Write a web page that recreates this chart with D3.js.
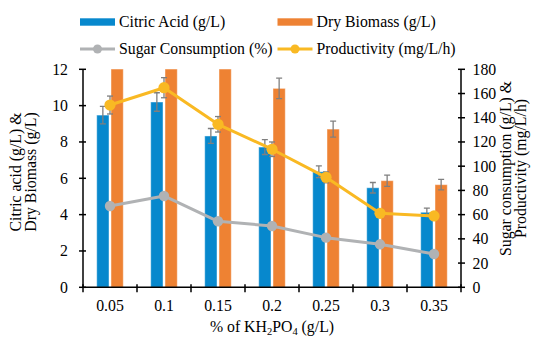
<!DOCTYPE html>
<html lang="en">
<head>
  <meta charset="UTF-8" />
  <title>Citric acid vs KH2PO4</title>
  <style>
    body { margin: 0; padding: 0; background: #fff; }
    svg { display: block; }
  </style>
</head>
<body>
  <svg id="chart"></svg>

  <script src="https://d3js.org/d3.v7.min.js"></script>
  <script>
    const width = 539, height = 341;

    // data
    const categories = ["0.05", "0.1", "0.15", "0.2", "0.25", "0.3", "0.35"];
    const citricAcid = [9.48, 10.2, 8.33, 7.72, 6.36, 5.48, 4.13];
    const citricErr = [0.48, 0.51, 0.41, 0.41, 0.32, 0.29, 0.23];
    // first three go past the top of the axis and get clipped
    const dryBiomass = [13.6, 14.2, 12.9, 10.95, 8.71, 5.87, 5.65];
    const biomassErr = [0.6, 0.6, 0.5, 0.56, 0.44, 0.31, 0.29];
    const sugarConsumption = [67.1, 75.4, 54.5, 50.6, 41.0, 35.5, 27.5];
    const productivity = [150.5, 164.8, 134.6, 114.0, 90.8, 61.1, 58.9];
    const productivityErr = [7.4, 8.3, 6.4, 6.0, 4.5, 2.0, 2.0];
    const leftTicks = [0, 2, 4, 6, 8, 10, 12];
    const rightTicks = [0, 20, 40, 60, 80, 100, 120, 140, 160, 180];

    const colors = {
      citric: "#0788cd",
      biomass: "#ee8233",
      sugar: "#b0b2b4",
      prod: "#f9b923",
      err: "#7f7f7f"
    };

    const font = "'Liberation Serif', 'Times New Roman', Times, serif";
    const plot = { left: 83, right: 461, top: 69.3, bottom: 287.3 };

    const svg = d3.select("#chart")
      .attr("width", width)
      .attr("height", height)
      .attr("viewBox", `0 0 ${width} ${height}`)
      .style("font-family", font);

    const x = d3.scaleBand().domain(categories).range([plot.left, plot.right]).padding(0);
    const xs = d3.scaleBand().domain(["citric", "biomass"]).range([0, x.bandwidth()])
      .paddingInner(0.14).paddingOuter(0.96);
    const y = d3.scaleLinear().domain([0, 12]).range([plot.bottom, plot.top]);
    const y2 = d3.scaleLinear().domain([0, 180]).range([plot.bottom, plot.top]);

    svg.append("clipPath").attr("id", "plotClip")
      .append("rect")
      .attr("x", plot.left).attr("y", plot.top)
      .attr("width", plot.right - plot.left).attr("height", plot.bottom - plot.top);

    const barData = [];
    categories.forEach((c, i) => {
      barData.push({ cat: c, key: "citric", v: citricAcid[i], e: citricErr[i] });
      barData.push({ cat: c, key: "biomass", v: dryBiomass[i], e: biomassErr[i] });
    });

    const plotG = svg.append("g").attr("clip-path", "url(#plotClip)");

    plotG.selectAll("rect.bar")
      .data(barData)
      .join("rect")
      .attr("class", "bar")
      .attr("x", d => x(d.cat) + xs(d.key))
      .attr("y", d => y(d.v))
      .attr("width", xs.bandwidth())
      .attr("height", d => plot.bottom - y(d.v))
      .attr("fill", d => colors[d.key])
      .attr("stroke", "rgba(255,255,255,0.45)")
      .attr("stroke-width", 1);

    function errorBars(g, data, cx, yScale) {
      const cap = 3;
      const eg = g.selectAll(null).data(data).join("g")
        .attr("stroke", colors.err).attr("stroke-width", 1.3);
      eg.append("line")
        .attr("x1", cx).attr("x2", cx)
        .attr("y1", d => yScale(d.v + d.e)).attr("y2", d => yScale(d.v - d.e));
      eg.append("line")
        .attr("x1", d => cx(d) - cap).attr("x2", d => cx(d) + cap)
        .attr("y1", d => yScale(d.v + d.e)).attr("y2", d => yScale(d.v + d.e));
      eg.append("line")
        .attr("x1", d => cx(d) - cap).attr("x2", d => cx(d) + cap)
        .attr("y1", d => yScale(d.v - d.e)).attr("y2", d => yScale(d.v - d.e));
    }

    errorBars(plotG.append("g"), barData, d => x(d.cat) + xs(d.key) + xs.bandwidth() / 2, y);

    const cx = c => x(c) + x.bandwidth() / 2;

    function series(values, color, r, errs) {
      const pts = categories.map((c, i) => ({ cat: c, v: values[i], e: errs ? errs[i] : 0 }));
      const line = d3.line().x(d => cx(d.cat)).y(d => y2(d.v));
      svg.append("path")
        .datum(pts)
        .attr("d", line)
        .attr("fill", "none")
        .attr("stroke", color)
        .attr("stroke-width", 3)
        .attr("stroke-linejoin", "round");
      if (errs) errorBars(svg.append("g"), pts, d => cx(d.cat), y2);
      svg.append("g").selectAll("circle")
        .data(pts)
        .join("circle")
        .attr("cx", d => cx(d.cat))
        .attr("cy", d => y2(d.v))
        .attr("r", r)
        .attr("fill", color);
    }

    series(sugarConsumption, colors.sugar, 5.2);
    series(productivity, colors.prod, 5.6, productivityErr);

    // axes
    const axisG = svg.append("g").attr("stroke", "#000").attr("stroke-width", 1.5);
    axisG.append("line")
      .attr("x1", plot.left).attr("x2", plot.left)
      .attr("y1", plot.top).attr("y2", plot.bottom);
    axisG.append("line")
      .attr("x1", plot.right).attr("x2", plot.right)
      .attr("y1", plot.top).attr("y2", plot.bottom);
    axisG.append("line")
      .attr("x1", plot.left).attr("x2", plot.right)
      .attr("y1", plot.bottom).attr("y2", plot.bottom);

    axisG.selectAll("line.lt").data(leftTicks).join("line").attr("class", "lt")
      .attr("x1", plot.left - 4).attr("x2", plot.left + 3)
      .attr("y1", d => y(d)).attr("y2", d => y(d));
    axisG.selectAll("line.rt").data(rightTicks).join("line").attr("class", "rt")
      .attr("x1", plot.right - 3).attr("x2", plot.right + 4)
      .attr("y1", d => y2(d)).attr("y2", d => y2(d));
    const bounds = categories.map(c => x(c)).concat([plot.right]);
    axisG.selectAll("line.xt").data(bounds).join("line").attr("class", "xt")
      .attr("x1", d => d).attr("x2", d => d)
      .attr("y1", plot.bottom - 3).attr("y2", plot.bottom + 5);

    const fs = "15.8px";

    svg.append("g").selectAll("text")
      .data(leftTicks).join("text")
      .attr("x", 68).attr("y", d => y(d) + 5.5)
      .attr("text-anchor", "end").attr("font-size", fs)
      .text(d => d);

    svg.append("g").selectAll("text")
      .data(rightTicks).join("text")
      .attr("x", 472.5).attr("y", d => y2(d) + 5.5)
      .attr("text-anchor", "start").attr("font-size", fs)
      .text(d => d);

    svg.append("g").selectAll("text")
      .data(categories).join("text")
      .attr("x", d => cx(d)).attr("y", 311)
      .attr("text-anchor", "middle").attr("font-size", fs)
      .text(d => d);

    // x title with subscripts
    const xt = svg.append("text")
      .attr("x", (plot.left + plot.right) / 2).attr("y", 332)
      .attr("text-anchor", "middle").attr("font-size", fs);
    xt.append("tspan").text("% of KH");
    xt.append("tspan").attr("font-size", "10.5px").attr("dy", 3).text("2");
    xt.append("tspan").attr("dy", -3).text("PO");
    xt.append("tspan").attr("font-size", "10.5px").attr("dy", 3).text("4");
    xt.append("tspan").attr("dy", -3).text(" (g/L)");

    // y titles
    const lt = svg.append("text")
      .attr("transform", "translate(20.5,172) rotate(-90)")
      .attr("text-anchor", "middle").attr("font-size", fs);
    lt.append("tspan").attr("x", 0).attr("y", 0).text("Citric acid (g/L) &");
    lt.append("tspan").attr("x", 0).attr("y", 15.5).text("Dry Biomass (g/L)");

    const rt = svg.append("text")
      .attr("transform", "translate(510.5,168.5) rotate(-90)")
      .attr("text-anchor", "middle").attr("font-size", fs);
    rt.append("tspan").attr("x", 0).attr("y", 0).text("Sugar consumption (g/L) &");
    rt.append("tspan").attr("x", 0).attr("y", 15.5).text("Productivity (mg/L/h)");

    // legend
    const legendItems = [
      { label: "Citric Acid (g/L)", color: colors.citric, type: "bar", lx: 80, ly: 22 },
      { label: "Dry Biomass (g/L)", color: colors.biomass, type: "bar", lx: 277.5, ly: 22 },
      { label: "Sugar Consumption (%)", color: colors.sugar, type: "line", lx: 80, ly: 49 },
      { label: "Productivity (mg/L/h)", color: colors.prod, type: "line", lx: 277.5, ly: 49 }
    ];
    const lg = svg.append("g").selectAll("g").data(legendItems).join("g")
      .attr("transform", d => `translate(${d.lx},${d.ly})`);
    lg.filter(d => d.type === "bar").append("rect")
      .attr("x", 0).attr("y", -3.7).attr("width", 35).attr("height", 7.4)
      .attr("fill", d => d.color);
    lg.filter(d => d.type === "line").append("line")
      .attr("x1", 0).attr("x2", 35).attr("y1", 0).attr("y2", 0)
      .attr("stroke", d => d.color).attr("stroke-width", 3);
    lg.filter(d => d.type === "line").append("circle")
      .attr("cx", 17.5).attr("cy", 0).attr("r", 4.5)
      .attr("fill", d => d.color);
    lg.append("text")
      .attr("x", 39).attr("y", 5.3).attr("font-size", fs)
      .text(d => d.label);
  </script>
</body>
</html>
